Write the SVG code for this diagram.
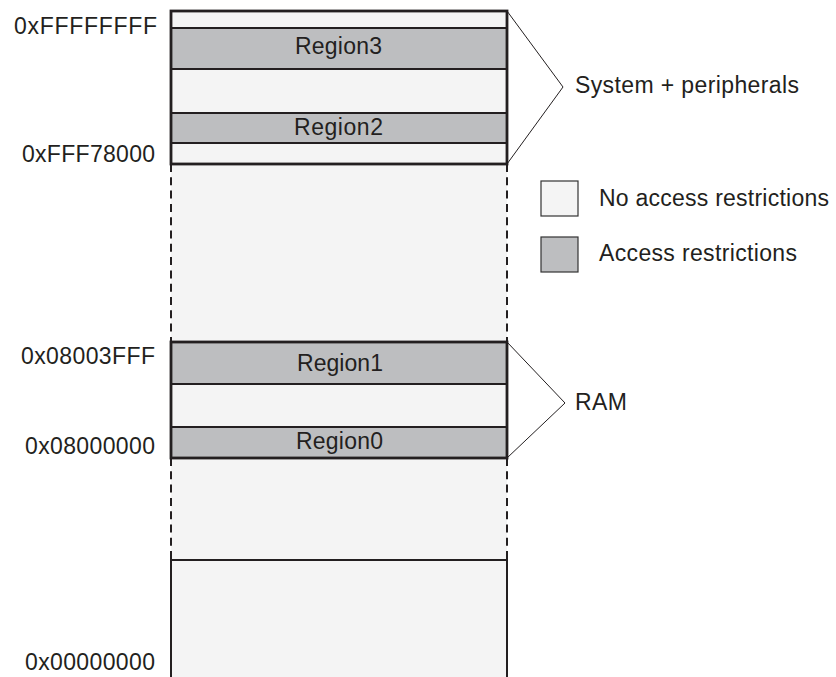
<svg xmlns="http://www.w3.org/2000/svg" width="836" height="677" viewBox="0 0 836 677">
<style>
text{font-family:"Liberation Sans",Arial,sans-serif;font-size:23px;fill:#231f20}
.free{fill:#f4f4f4}
.rest{fill:#bdbec0}
.sep{stroke:#231f20;stroke-width:2;fill:none}
.outer{stroke:#231f20;stroke-width:2.8;fill:none}
.dash{stroke:#231f20;stroke-width:2;stroke-dasharray:8 5.3;fill:none}
.br{stroke:#231f20;stroke-width:1;fill:none}
.leg{stroke:#333;stroke-width:1.2}
</style>
<rect width="836" height="677" fill="#ffffff"/>
<g id="gap-upper">
<rect class="free" x="171" y="164" width="336" height="178"/>
<line class="dash" x1="171" y1="164" x2="171" y2="342"/>
<line class="dash" x1="507" y1="164" x2="507" y2="342"/>
</g>
<g id="gap-lower">
<rect class="free" x="171" y="458" width="336" height="102"/>
<line class="dash" x1="171" y1="458" x2="171" y2="560"/>
<line class="dash" x1="507" y1="458" x2="507" y2="560"/>
</g>
<g id="system-block">
<rect class="free" x="171" y="11" width="336" height="153"/>
<rect class="rest" x="171" y="28" width="336" height="41"/>
<rect class="rest" x="171" y="113" width="336" height="30"/>
<line class="sep" x1="171" y1="28" x2="507" y2="28"/>
<line class="sep" x1="171" y1="69" x2="507" y2="69"/>
<line class="sep" x1="171" y1="113" x2="507" y2="113"/>
<line class="sep" x1="171" y1="143" x2="507" y2="143"/>
<rect class="outer" x="171" y="11" width="336" height="153"/>
</g>
<g id="region3"><text x="295" y="54" textLength="87">Region3</text></g>
<g id="region2"><text x="294" y="135" textLength="89">Region2</text></g>
<g id="ram-block">
<rect class="free" x="171" y="342" width="336" height="116"/>
<rect class="rest" x="171" y="342" width="336" height="42"/>
<rect class="rest" x="171" y="427" width="336" height="31"/>
<line class="sep" x1="171" y1="384" x2="507" y2="384"/>
<line class="sep" x1="171" y1="427" x2="507" y2="427"/>
<rect class="outer" x="171" y="342" width="336" height="116" stroke-width="3.5"/>
</g>
<g id="region1"><text x="297" y="371" textLength="86">Region1</text></g>
<g id="region0"><text x="296" y="449" textLength="87">Region0</text></g>
<g id="bottom-block">
<rect class="free" x="171" y="560" width="336" height="120"/>
<path class="sep" d="M171,680 V560 H507 V680"/>
</g>
<g id="addresses">
<text x="14" y="34" textLength="143">0xFFFFFFFF</text>
<text x="22" y="162" textLength="133">0xFFF78000</text>
<text x="21" y="364" textLength="134">0x08003FFF</text>
<text x="25" y="454" textLength="130">0x08000000</text>
<text x="25" y="670" textLength="130">0x00000000</text>
</g>
<g id="connectors">
<polyline class="br" points="507,11 563,87 507,164"/>
<polyline class="br" points="507,342 565,403 507,458"/>
</g>
<g id="label-system"><text x="575" y="93" textLength="224">System + peripherals</text></g>
<g id="label-ram"><text x="575" y="410" textLength="52">RAM</text></g>
<g id="legend-free">
<rect class="free leg" x="541" y="181" width="37" height="35"/>
<text x="599" y="206" textLength="230">No access restrictions</text>
</g>
<g id="legend-restricted">
<rect class="rest leg" x="541" y="237" width="37" height="35"/>
<text x="599" y="261" textLength="198">Access restrictions</text>
</g>
</svg>
